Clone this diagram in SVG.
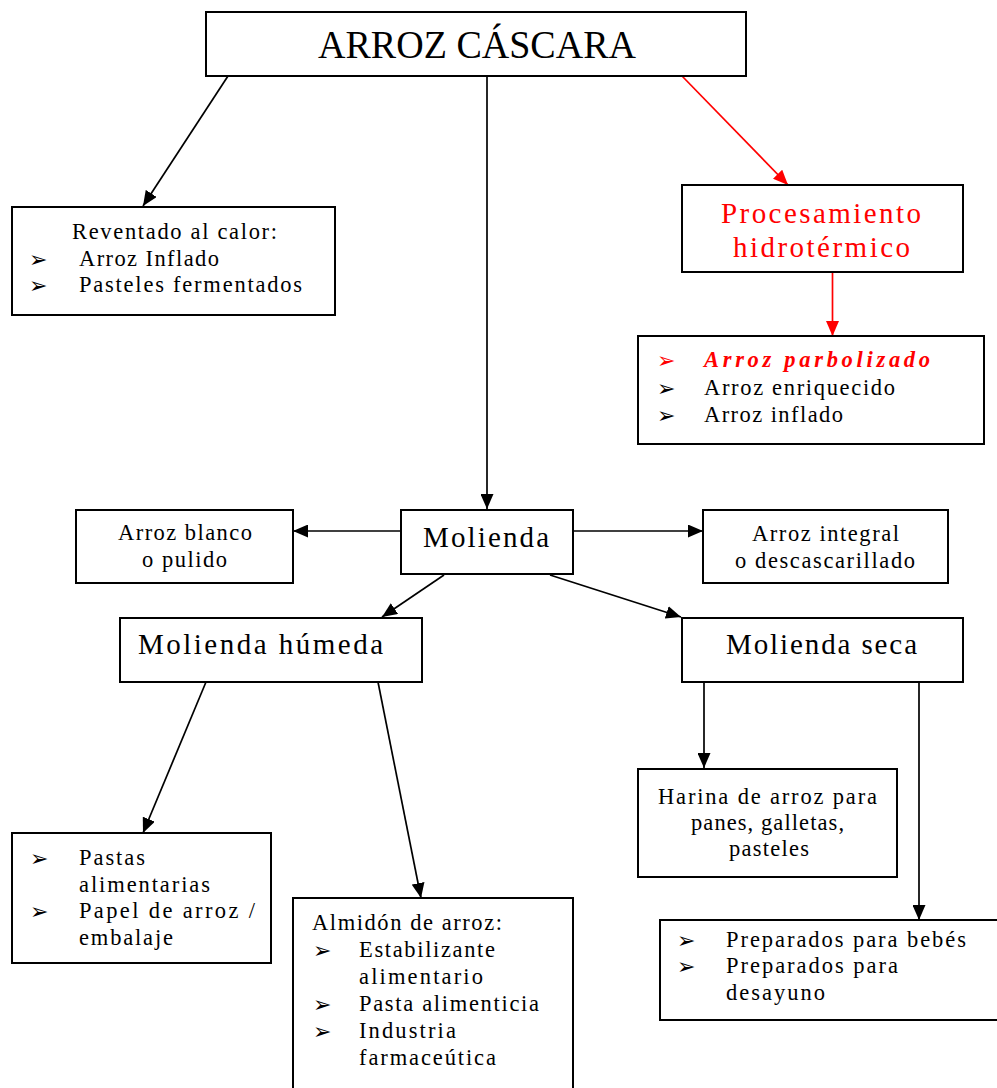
<svg xmlns="http://www.w3.org/2000/svg" width="997" height="1088" viewBox="0 0 997 1088">
<style>
.box{fill:#fff;stroke:#000;stroke-width:2}
.t{font-family:"Liberation Serif","Times New Roman",serif;font-size:22.5px;fill:#000}
.h{font-family:"Liberation Serif","Times New Roman",serif;font-size:29px;fill:#000}
.red{fill:#f00}
.b{font-family:"DejaVu Sans",sans-serif;font-size:22px;fill:#000}
.ln{fill:none;stroke:#000;stroke-width:1.7}
.lnr{fill:none;stroke:#f00;stroke-width:1.7}
</style>
<defs>
<marker id="ah" viewBox="0 0 15 13" refX="15" refY="6.5" markerWidth="15" markerHeight="13" markerUnits="userSpaceOnUse" orient="auto"><path d="M0,0 L15,6.5 L0,13 z" fill="#000"/></marker>
<marker id="ahr" viewBox="0 0 15 13" refX="15" refY="6.5" markerWidth="15" markerHeight="13" markerUnits="userSpaceOnUse" orient="auto"><path d="M0,0 L15,6.5 L0,13 z" fill="#f00"/></marker>
</defs>
<rect width="997" height="1088" fill="#fff"/>
<g id="connectors">
<path class="ln" d="M228,76 L143,206" marker-end="url(#ah)"/>
<path class="ln" d="M487,76 L487,509" marker-end="url(#ah)"/>
<path class="lnr" d="M682,76 L788,185" marker-end="url(#ahr)"/>
<path class="lnr" d="M832.5,272 L832.5,336" marker-end="url(#ahr)"/>
<path class="ln" d="M401,531 L293,531" marker-end="url(#ah)"/>
<path class="ln" d="M573,531 L703,531" marker-end="url(#ah)"/>
<path class="ln" d="M444,575 L382,617" marker-end="url(#ah)"/>
<path class="ln" d="M550,575 L681,617" marker-end="url(#ah)"/>
<path class="ln" d="M206,682 L143,833" marker-end="url(#ah)"/>
<path class="ln" d="M378,682 L421,898" marker-end="url(#ah)"/>
<path class="ln" d="M704,682 L704,768" marker-end="url(#ah)"/>
<path class="ln" d="M919,682 L919,920" marker-end="url(#ah)"/>
</g>
<g id="n-arroz-cascara">
<rect class="box" x="206" y="12" width="540" height="64"/>
<text x="318" y="58" font-family="Liberation Serif, serif" font-size="39" fill="#000" textLength="318" lengthAdjust="spacingAndGlyphs">ARROZ CÁSCARA</text>
</g>
<g id="n-reventado">
<rect class="box" x="12" y="207" width="323" height="108"/>
<text class="t" x="72" y="239" textLength="205" lengthAdjust="spacing">Reventado al calor:</text>
<text class="b" x="29" y="267">➢</text>
<text class="t" x="79" y="266" textLength="140" lengthAdjust="spacing">Arroz Inflado</text>
<text class="b" x="29" y="293">➢</text>
<text class="t" x="79" y="292" textLength="223" lengthAdjust="spacing">Pasteles fermentados</text>
</g>
<g id="n-procesamiento">
<rect class="box" x="682" y="185" width="281" height="87"/>
<text class="h red" x="721" y="223" textLength="200" lengthAdjust="spacing">Procesamiento</text>
<text class="h red" x="733" y="257" textLength="177" lengthAdjust="spacing">hidrotérmico</text>
</g>
<g id="n-parbolizado">
<rect class="box" x="638" y="336" width="346" height="108"/>
<text class="b" x="657" y="368" style="fill:#f00">➢</text>
<text class="t red" x="704" y="367" font-weight="bold" font-style="italic" textLength="226" lengthAdjust="spacing">Arroz parbolizado</text>
<text class="b" x="657" y="396">➢</text>
<text class="t" x="704" y="395" textLength="191" lengthAdjust="spacing">Arroz enriquecido</text>
<text class="b" x="657" y="423">➢</text>
<text class="t" x="704" y="422" textLength="139" lengthAdjust="spacing">Arroz inflado</text>
</g>
<g id="n-molienda">
<rect class="box" x="401" y="510" width="172" height="64"/>
<text class="h" x="423" y="547" textLength="126" lengthAdjust="spacing">Molienda</text>
</g>
<g id="n-blanco">
<rect class="box" x="76" y="510" width="217" height="73"/>
<text class="t" x="118" y="540" textLength="134" lengthAdjust="spacing">Arroz blanco</text>
<text class="t" x="142" y="567" textLength="85" lengthAdjust="spacing">o pulido</text>
</g>
<g id="n-integral">
<rect class="box" x="703" y="510" width="245" height="73"/>
<text class="t" x="752" y="541" textLength="147" lengthAdjust="spacing">Arroz integral</text>
<text class="t" x="735" y="568" textLength="180" lengthAdjust="spacing">o descascarillado</text>
</g>
<g id="n-humeda">
<rect class="box" x="120" y="618" width="302" height="64"/>
<text class="h" x="138" y="654" textLength="245" lengthAdjust="spacing">Molienda húmeda</text>
</g>
<g id="n-seca">
<rect class="box" x="682" y="618" width="281" height="64"/>
<text class="h" x="726" y="654" textLength="191" lengthAdjust="spacing">Molienda seca</text>
</g>
<g id="n-pastas">
<rect class="box" x="12" y="833" width="259" height="130"/>
<text class="b" x="30" y="866">➢</text>
<text class="t" x="79" y="865" textLength="66" lengthAdjust="spacing">Pastas</text>
<text class="t" x="79" y="892" textLength="131" lengthAdjust="spacing">alimentarias</text>
<text class="b" x="30" y="919">➢</text>
<text class="t" x="79" y="918" textLength="176" lengthAdjust="spacing">Papel de arroz /</text>
<text class="t" x="79" y="945" textLength="94" lengthAdjust="spacing">embalaje</text>
</g>
<g id="n-almidon">
<rect class="box" x="293" y="898" width="280" height="200"/>
<text class="t" x="312" y="930" textLength="190" lengthAdjust="spacing">Almidón de arroz:</text>
<text class="b" x="313" y="958">➢</text>
<text class="t" x="359" y="957" textLength="136" lengthAdjust="spacing">Estabilizante</text>
<text class="t" x="359" y="984" textLength="124" lengthAdjust="spacing">alimentario</text>
<text class="b" x="313" y="1012">➢</text>
<text class="t" x="359" y="1011" textLength="180" lengthAdjust="spacing">Pasta alimenticia</text>
<text class="b" x="313" y="1039">➢</text>
<text class="t" x="359" y="1038" textLength="97" lengthAdjust="spacing">Industria</text>
<text class="t" x="359" y="1065" textLength="137" lengthAdjust="spacing">farmaceútica</text>
</g>
<g id="n-harina">
<rect class="box" x="638" y="769" width="259" height="108"/>
<text class="t" x="658" y="804" textLength="219" lengthAdjust="spacing">Harina de arroz para</text>
<text class="t" x="691" y="830" textLength="153" lengthAdjust="spacing">panes, galletas,</text>
<text class="t" x="729" y="856" textLength="80" lengthAdjust="spacing">pasteles</text>
</g>
<g id="n-preparados">
<rect class="box" x="660" y="920" width="345" height="100"/>
<text class="b" x="677" y="948">➢</text>
<text class="t" x="726" y="947" textLength="240" lengthAdjust="spacing">Preparados para bebés</text>
<text class="b" x="677" y="974">➢</text>
<text class="t" x="726" y="973" textLength="172" lengthAdjust="spacing">Preparados para</text>
<text class="t" x="726" y="1000" textLength="99" lengthAdjust="spacing">desayuno</text>
</g>
</svg>
